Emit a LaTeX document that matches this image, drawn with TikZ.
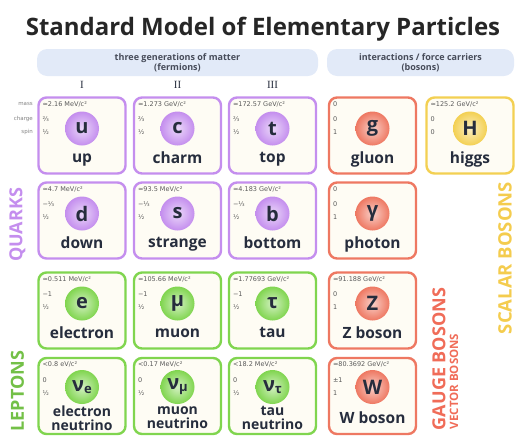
\documentclass[tikz,border=0pt]{standalone}
\usepackage{fontspec}
\setmainfont{Open Sans}
\newfontfamily\datafont{DejaVu Sans}
\newfontfamily\numfont{Liberation Serif}
\usetikzlibrary{positioning}

\definecolor{quark}{HTML}{C48EEE}
\definecolor{lepton}{HTML}{80D54F}
\definecolor{gauge}{HTML}{EE7862}
\definecolor{scalar}{HTML}{F3D052}
\definecolor{bandblue}{HTML}{E2EAF8}
\definecolor{cream}{HTML}{FEFCF4}
\definecolor{ink}{HTML}{262D3D}
\definecolor{datagray}{HTML}{5A5A5A}

\def\symlift{7pt}
\def\namefont{\bfseries\fontsize{15.5}{13}\selectfont}

% one card per particle: id, x, y, colour, mass, charge, spin, symbol, name
\newcommand{\particle}[9]{%
  \node[card=#4] (#1) at (#2,#3) {};
  \node[sym=#4] (#1-sym) at ([yshift=\symlift]#1.center) {#8};
  \node[pname, font=\namefont] (#1-name) at ([yshift=-23.5pt]#1.center) {#9};
  \node[pdata] (#1-mass) at ([shift={(5pt,-8pt)}]#1.north west) {#5};
  \node[pdata] (#1-charge) at ([shift={(5pt,-23pt)}]#1.north west) {#6};
  \node[pdata] (#1-spin) at ([shift={(5pt,-36pt)}]#1.north west) {#7};
}

\begin{document}
\begin{tikzpicture}[x=1pt, y=-1pt,
    card/.style={draw=#1, line width=2.4pt, rounded corners=8pt, fill=cream,
      minimum width=87pt, minimum height=76pt, inner sep=0pt},
    sym/.style={circle, minimum size=34pt, inner sep=0pt, inner color=#1!35!white,
      outer color=#1, text=ink, font=\bfseries\fontsize{20}{20}\selectfont},
    pname/.style={align=center, text=ink, inner sep=0pt,
      execute at begin node=\vphantom{Hg}},
    pdata/.style={anchor=west, inner sep=0pt, text=datagray,
      font=\datafont\fontsize{6.5}{7}\selectfont},
    hdrband/.style={fill=bandblue, rounded corners=10pt, minimum height=27pt,
      align=center, text=ink!85, font=\bfseries\fontsize{9}{10}\selectfont},
    sidelabel/.style={rotate=90, font=\bfseries\fontsize{18}{18}\selectfont},
    rowlabel/.style={anchor=east, inner sep=0pt, text=black!50,
      font=\datafont\fontsize{5.5}{6}\selectfont},
    gen/.style={text=ink, font=\numfont\fontsize{11}{11}\selectfont}]
  \useasboundingbox (0,0) rectangle (522,437);

  \node[anchor=base, text=black!85, font=\bfseries\fontsize{24}{28}\selectfont]
    (title) at (263,35) {Standard Model of Elementary Particles};

  \node[hdrband, minimum width=281pt] (fermions) at (177.5,62.5)
    {three generations of matter\\(fermions)};
  \node[hdrband, minimum width=187pt] (bosons) at (420.5,62.5)
    {interactions / force carriers\\(bosons)};

  \node[gen] (genI) at (82,85) {I};
  \node[gen] (genII) at (177.5,85) {II};
  \node[gen] (genIII) at (272.5,85) {III};

  \node[rowlabel] (lmass) at (33,104) {mass};
  \node[rowlabel] (lcharge) at (33,119) {charge};
  \node[rowlabel] (lspin) at (33,132) {spin};

  % quarks
  \particle{u}{82}{135.5}{quark}{≃2.16 MeV/c²}{⅔}{½}{u}{up}
  \particle{c}{177.5}{135.5}{quark}{≃1.273 GeV/c²}{⅔}{½}{c}{charm}
  \particle{t}{272.5}{135.5}{quark}{≃172.57 GeV/c²}{⅔}{½}{t}{top}
  \particle{d}{82}{220.5}{quark}{≃4.7 MeV/c²}{−⅓}{½}{d}{down}
  \particle{s}{177.5}{220.5}{quark}{≃93.5 MeV/c²}{−⅓}{½}{s}{strange}
  \particle{b}{272.5}{220.5}{quark}{≃4.183 GeV/c²}{−⅓}{½}{b}{bottom}
  % leptons
  \particle{e}{82}{310.5}{lepton}{≃0.511 MeV/c²}{−1}{½}{e}{electron}
  \particle{mu}{177.5}{310.5}{lepton}{≃105.66 MeV/c²}{−1}{½}{μ}{muon}
  \particle{tau}{272.5}{310.5}{lepton}{≃1.77693 GeV/c²}{−1}{½}{τ}{tau}
  % bosons
  \particle{g}{372.5}{135.5}{gauge}{0}{0}{1}{g}{gluon}
  \particle{gamma}{372.5}{220.5}{gauge}{0}{0}{1}{γ}{photon}
  \particle{Z}{372.5}{310.5}{gauge}{≃91.188 GeV/c²}{0}{1}{Z}{Z boson}
  \particle{H}{470}{135.5}{scalar}{≃125.2 GeV/c²}{0}{0}{H}{higgs}
  % bottom row sits a little higher
  \def\symlift{9pt}
  \particle{W}{372.5}{396}{gauge}{≃80.3692 GeV/c²}{±1}{1}{W}{W boson}
  \def\namefont{\bfseries\fontsize{14}{14}\selectfont}
  \particle{nue}{82}{396}{lepton}{<0.8 eV/c²}{0}{½}{ν{\fontsize{13}{13}\selectfont\raisebox{-2pt}{e}}}{electron\\neutrino}
  \particle{numu}{177.5}{396}{lepton}{<0.17 MeV/c²}{0}{½}{ν{\fontsize{13}{13}\selectfont\raisebox{-2pt}{μ}}}{muon\\neutrino}
  \particle{nutau}{272.5}{396}{lepton}{<18.2 MeV/c²}{0}{½}{ν{\fontsize{13}{13}\selectfont\raisebox{-2pt}{τ}}}{tau\\neutrino}

  \node[sidelabel, text=quark] (quarks) at (17.5,225) {QUARKS};
  \node[sidelabel, text=lepton!90!black] (leptons) at (17.5,391) {LEPTONS};
  \node[sidelabel, text=gauge!90!red] (gaugelbl) at (439,359) {GAUGE BOSONS};
  \node[sidelabel, text=gauge!90!red, font=\bfseries\fontsize{11.5}{12}\selectfont]
    (vectorlbl) at (454,381.5) {VECTOR BOSONS};
  \node[sidelabel, text=scalar!95!orange, font=\bfseries\fontsize{18.5}{19}\selectfont]
    (scalarlbl) at (505,258) {SCALAR BOSONS};
\end{tikzpicture}
\end{document}
